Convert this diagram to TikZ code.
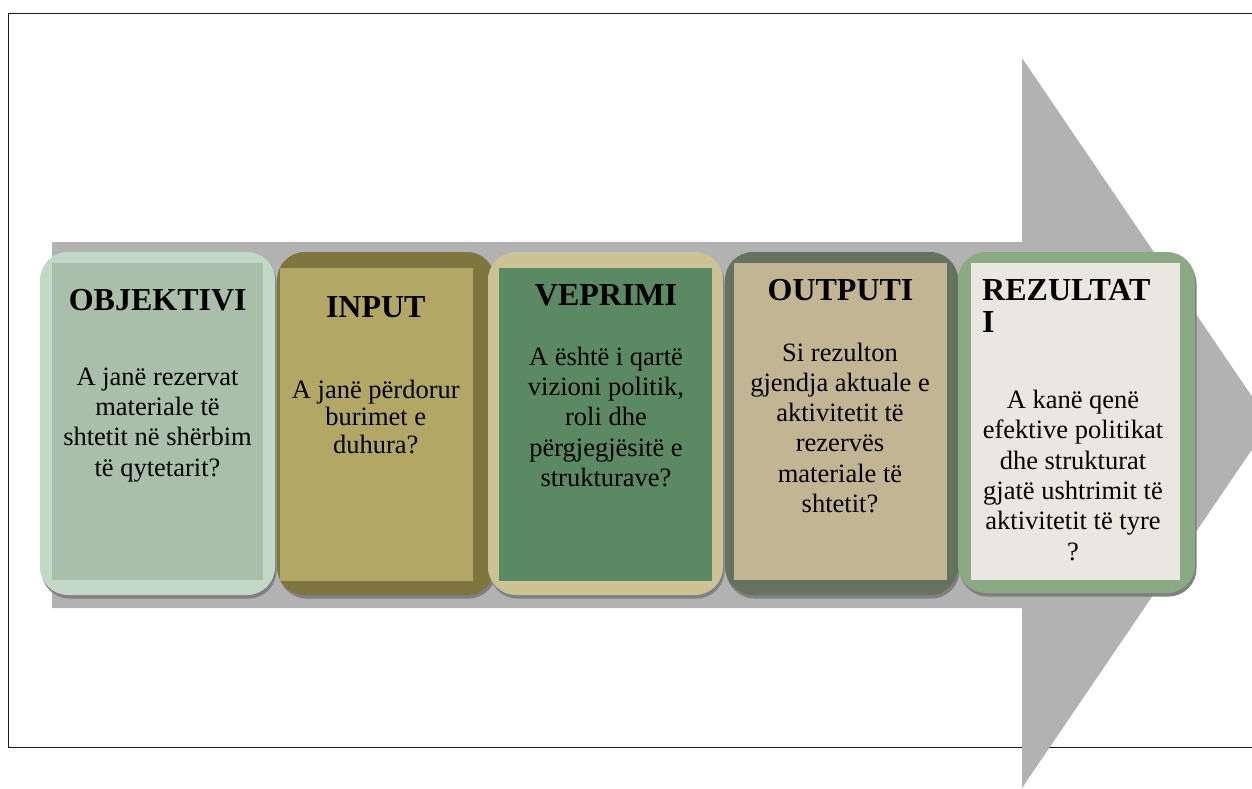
\documentclass[tikz,border=0pt]{standalone}
\usepackage{fontspec}
\setmainfont{Liberation Serif}
\usetikzlibrary{shadows}
\definecolor{arrowgray}{HTML}{B2B2B2}
\definecolor{oA}{HTML}{C3D9C7}\definecolor{iA}{HTML}{A9BFA9}
\definecolor{oB}{HTML}{7F7540}\definecolor{iB}{HTML}{B3A765}
\definecolor{oC}{HTML}{CBC394}\definecolor{iC}{HTML}{5A8963}
\definecolor{oD}{HTML}{65725E}\definecolor{iD}{HTML}{C2B594}
\definecolor{oE}{HTML}{8BAA84}\definecolor{iE}{HTML}{EAE7E1}
\newcommand{\mytitlefont}{\fontsize{32}{32}\selectfont\bfseries}
\newcommand{\mybodyfont}{\fontsize{26.5}{30.3}\selectfont}
\begin{document}
\begin{tikzpicture}[x=1pt,y=-1pt,
  outerbox/.style={rectangle, rounded corners=28pt, inner sep=0pt,
    general shadow={shadow xshift=1.5pt, shadow yshift=-3.5pt, fill=black!50}},
  innerbox/.style={rectangle, inner sep=0pt},
  titletext/.style={anchor=base, inner sep=0pt, font=\mytitlefont, text=black},
  bodytext/.style={anchor=base, inner sep=0pt, align=center, font=\mybodyfont, text=black}]
\useasboundingbox (0,0) rectangle (1252,788);
\clip (0,0) rectangle (1252,788);
% frame
\coordinate (ftr) at (1262,13.5);
\coordinate (ftl) at (8.5,13.5);
\coordinate (fbl) at (8.5,747.5);
\coordinate (fbr) at (1262,747.5);
\draw[line width=1.8pt, black!90] (ftr) -- (ftl) -- (fbl) -- (fbr);
% big arrow
\fill[arrowgray] (52,242) -- (1022,242) -- (1022,58) -- (1270,423) -- (1022,788) -- (1022,608) -- (52,608) -- cycle;
% box 1 (anchor base = baseline of the last line)
\node[outerbox, fill=oA, minimum width=235pt, minimum height=343pt] (b1) at (157.5,423.5) {};
\node[innerbox, fill=iA, minimum width=211pt, minimum height=317pt] (i1) at (157.5,421.5) {};
\node[titletext] (t1) at (157.7,310) {OBJEKTIVI};
\node[bodytext] (x1) at (157.5,476) {A janë rezervat\\materiale të\\shtetit në shërbim\\të qytetarit?};
% box 2
\node[outerbox, fill=oB, minimum width=218pt, minimum height=343pt] (b2) at (386,423.5) {};
\node[innerbox, fill=iB, minimum width=193pt, minimum height=313pt] (i2) at (376.5,424.5) {};
\node[titletext] (t2) at (375.8,317) {INPUT};
\node[bodytext, font=\fontsize{26.5}{27.5}\selectfont] (x2) at (375.8,453) {A janë përdorur\\burimet e\\duhura?};
% box 3
\node[outerbox, fill=oC, minimum width=235pt, minimum height=343pt] (b3) at (605.5,423.5) {};
\node[innerbox, fill=iC, minimum width=213pt, minimum height=313pt] (i3) at (605.5,424.5) {};
\node[titletext] (t3) at (606,305) {VEPRIMI};
\node[bodytext] (x3) at (606,486.5) {A është i qartë\\vizioni politik,\\roli dhe\\përgjegjësitë e\\strukturave?};
% box 4
\node[outerbox, fill=oD, minimum width=233pt, minimum height=343pt] (b4) at (841.5,423.5) {};
\node[innerbox, fill=iD, minimum width=213pt, minimum height=317pt] (i4) at (840.5,421.5) {};
\node[titletext] (t4) at (840.5,300) {OUTPUTI};
\node[bodytext] (x4) at (840,512.5) {Si rezulton\\gjendja aktuale e\\aktivitetit të\\rezervës\\materiale të\\shtetit?};
% box 5
\node[outerbox, fill=oE, minimum width=237pt, minimum height=341pt] (b5) at (1076.5,422.5) {};
\node[innerbox, fill=iE, minimum width=209pt, minimum height=317pt] (i5) at (1075.5,421.5) {};
\node[titletext, anchor=base west, align=left] (t5) at (982,332) {REZULTAT\\I};
\node[bodytext] (x5) at (1073,560) {A kanë qenë\\efektive politikat\\dhe strukturat\\gjatë ushtrimit të\\aktivitetit të tyre\\?};
\end{tikzpicture}
\end{document}
